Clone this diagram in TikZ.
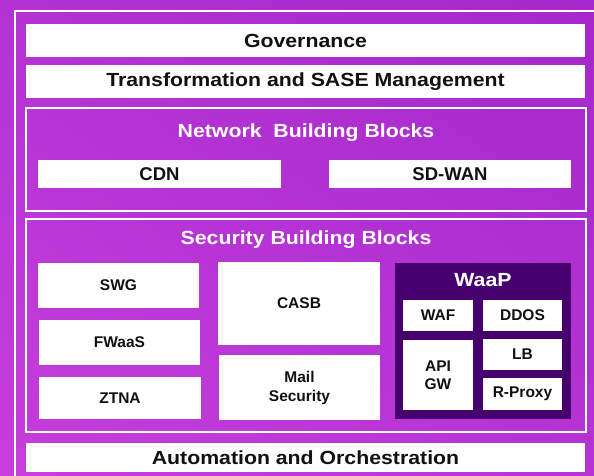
\documentclass[tikz,border=0pt]{standalone}
\usepackage{fontspec}
\setmainfont{Liberation Sans}
\newfontfamily\wideface[FakeStretch=1.12]{Liberation Sans}
\definecolor{bgtop}{HTML}{A428CB}
\definecolor{bgbot}{HTML}{C63EDC}
\definecolor{waapdark}{HTML}{46006E}
\definecolor{ink}{HTML}{111111}
\tikzset{
  wbox/.style={fill=white, draw=none, inner sep=0pt, align=center, text=ink, font=\bfseries\fontsize{15.5}{19}\selectfont},
  bigbox/.style={wbox, font=\wideface\bfseries\fontsize{19}{22}\selectfont},
  netbox/.style={wbox, font=\bfseries\fontsize{18.5}{21}\selectfont},
  frameline/.style={draw=white, line width=1.5pt},
  wtitle/.style={text=white, inner sep=0pt, font=\wideface\bfseries\fontsize{19}{22}\selectfont}
}
\begin{document}
\begin{tikzpicture}[x=1pt,y=-1pt]
\useasboundingbox (0,0) rectangle (594,476);
\shade[top color=bgtop, bottom color=bgbot, shading angle=-35] (-100,-100) rectangle (694,576);
% outer frame
\coordinate (ofa) at (15,480);
\coordinate (ofb) at (15,11);
\coordinate (ofc) at (600,11);
\draw[frameline] (ofa) -- (ofb) -- (ofc);
% top bars
\node[bigbox, minimum width=559pt, minimum height=33pt] (gov) at (305.5,40.5) {Governance};
\node[bigbox, minimum width=559pt, minimum height=33pt] (trans) at (305.5,81.5) {Transformation and SASE Management};
% network
\node[frameline, minimum width=560pt, minimum height=103pt, inner sep=0pt] (net) at (306,159.5) {};
\node[wtitle] (nettitle) at (306,133) {Network\ \ Building Blocks};
\node[netbox, minimum width=243pt, minimum height=28pt] (cdn) at (159.5,174) {CDN};
\node[netbox, minimum width=242pt, minimum height=28pt] (sdwan) at (450,174) {SD-WAN};
% security
\node[frameline, minimum width=560pt, minimum height=213pt, inner sep=0pt] (sec) at (306,325.5) {};
\node[wtitle] (sectitle) at (306,240) {Security Building Blocks};
\node[wbox, minimum width=161pt, minimum height=45pt] (swg) at (118.5,285.5) {SWG};
\node[wbox, minimum width=161pt, minimum height=45pt] (fwaas) at (119.5,342.5) {FWaaS};
\node[wbox, minimum width=162pt, minimum height=42pt] (ztna) at (120,398) {ZTNA};
\node[wbox, minimum width=162pt, minimum height=83pt] (casb) at (299,303.5) {CASB};
\node[wbox, minimum width=161pt, minimum height=65pt] (mail) at (299.5,387.5) {Mail\\Security};
% WaaP
\node[fill=waapdark, draw=none, inner sep=0pt, minimum width=176pt, minimum height=156pt] (waap) at (483,341) {};
\node[wtitle] (waaptitle) at (483,280) {WaaP};
\node[wbox, minimum width=70pt, minimum height=31pt] (waf) at (438,315.5) {WAF};
\node[wbox, minimum width=79pt, minimum height=31pt] (ddos) at (522.5,315.5) {DDOS};
\node[wbox, minimum width=70pt, minimum height=70pt, font=\bfseries\fontsize{15.5}{18}\selectfont] (apigw) at (438,375) {API\\GW};
\node[wbox, minimum width=79pt, minimum height=31pt] (lb) at (522.5,354.5) {LB};
\node[wbox, minimum width=79pt, minimum height=32pt] (rproxy) at (522.5,394) {R-Proxy};
% bottom
\node[bigbox, minimum width=559pt, minimum height=29pt] (auto) at (305.5,457.5) {Automation and Orchestration};
\end{tikzpicture}
\end{document}
